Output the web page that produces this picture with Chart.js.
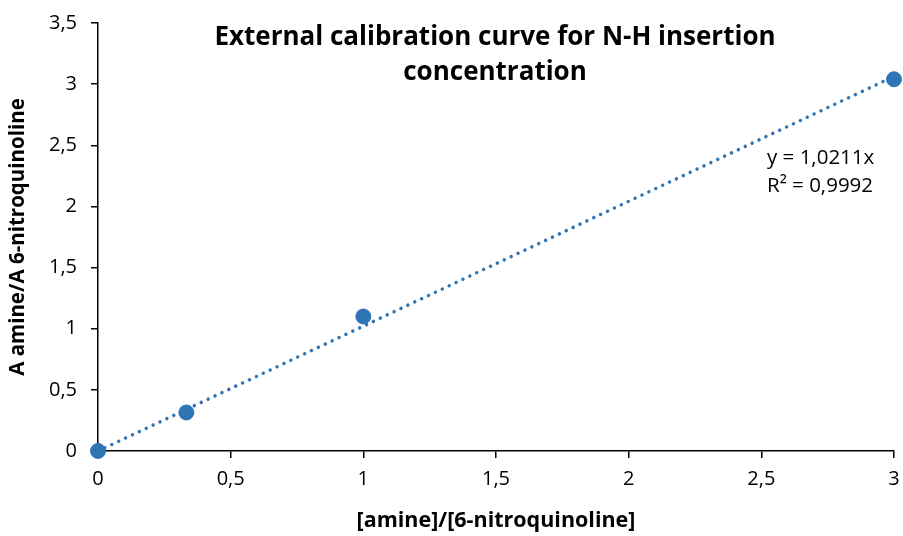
<!DOCTYPE html>
<html>
<head>
<meta charset="utf-8">
<script src="https://cdn.jsdelivr.net/npm/chart.js"></script>
<style>
html,body{margin:0;padding:0;background:#fff;}
#wrap{width:903px;height:536px;position:relative;}
</style>
</head>
<body>
<div id="wrap"><canvas id="c" width="903" height="536"></canvas></div>
<script>
const xValues = [0, 0.333, 1, 3];
const yValues = [0, 0.315, 1.10, 3.04];
const trendX = [0, 3];
const trendY = [0, 3.0633];
const titleLines = ["External calibration curve for N-H insertion", "concentration"];
const xTitle = "[amine]/[6-nitroquinoline]";
const yTitle = "A amine/A 6-nitroquinoline";
const equationLines = ["y = 1,0211x", "R² = 0,9992"];

const FONT = "'Open Sans', sans-serif";
const blue = "#2E75B6";

const fmt = v => String(v).replace('.', ',');

const textPlugin = {
  id: 'texts',
  afterDraw(chart) {
    const ctx = chart.ctx;
    ctx.save();
    ctx.fillStyle = '#000';
    ctx.textAlign = 'center';
    ctx.textBaseline = 'middle';
    ctx.font = "bold 26px " + FONT;
    ctx.fillText(titleLines[0], 495, 38);
    ctx.fillText(titleLines[1], 495, 73);
    ctx.font = "20.5px " + FONT;
    ctx.textAlign = 'left';
    ctx.fillText(equationLines[0], 767, 158);
    ctx.fillText(equationLines[1], 767, 186);
    ctx.restore();
  }
};

new Chart(document.getElementById('c'), {
  type: 'scatter',
  data: {
    datasets: [
      {
        label: 'trend',
        data: trendX.map((x, i) => ({x: x, y: trendY[i]})),
        showLine: true,
        borderColor: blue,
        borderWidth: 3.5,
        borderDash: [0.01, 7.6],
        borderCapStyle: 'round',
        pointRadius: 0,
        fill: false,
        clip: false,
        order: 2
      },
      {
        label: 'data',
        data: xValues.map((x, i) => ({x: x, y: yValues[i]})),
        backgroundColor: blue,
        borderColor: blue,
        pointRadius: 7.5,
        pointHoverRadius: 7.5,
        clip: false,
        order: 1
      }
    ]
  },
  options: {
    responsive: false,
    animation: false,
    layout: {padding: {top: 23, right: 9, bottom: 0, left: 0}},
    plugins: {legend: {display: false}, tooltip: {enabled: false}, title: {display: false}},
    scales: {
      x: {
        type: 'linear', min: 0, max: 3,
        afterFit: s => { s.height = 85; s.paddingLeft = 0; s.paddingRight = 0; },
        ticks: {stepSize: 0.5, color: '#000', font: {size: 20, family: FONT}, callback: v => fmt(v), padding: 9, maxRotation: 0},
        grid: {display: true, drawOnChartArea: false, drawTicks: true, tickLength: 7, color: '#000', lineWidth: 1.5},
        border: {display: true, color: '#000', width: 1.5},
        title: {display: true, text: xTitle, color: '#000', font: {size: 21.5, weight: 'bold', family: FONT}, padding: {top: 8, bottom: 2}}
      },
      y: {
        type: 'linear', min: 0, max: 3.5,
        afterFit: s => { s.width = 98; s.paddingTop = 0; s.paddingBottom = 0; },
        ticks: {stepSize: 0.5, color: '#000', font: {size: 20, family: FONT}, callback: v => fmt(v), padding: 14},
        grid: {display: true, drawOnChartArea: false, drawTicks: true, tickLength: 7, color: '#000', lineWidth: 1.5},
        border: {display: true, color: '#000', width: 1.5},
        title: {display: true, text: yTitle, color: '#000', font: {size: 20.5, weight: 'bold', family: FONT}, padding: {top: 6, bottom: 6}}
      }
    }
  },
  plugins: [textPlugin]
});
</script>
</body>
</html>
